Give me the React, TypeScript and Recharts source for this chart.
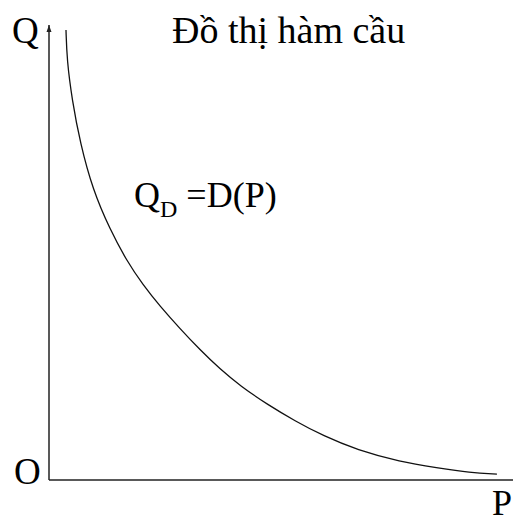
import React from 'react';
import { LineChart, Line, XAxis, YAxis, ReferenceLine } from 'recharts';

// demand curve Q = D(P), read as (price, quantity) pairs
const prices = [3.6, 3.8, 4.9, 6.6, 9.3, 12.9, 16.5, 19.9, 23.5, 27.8, 32.0, 36.2, 40.5, 46.4, 52.1, 58.1, 65.3, 74.4, 82.2, 89.2, 94.9];
const quantities = [98.9, 92.3, 83.5, 74.1, 63.7, 55.1, 48.1, 42.9, 38.2, 33.2, 28.6, 24.4, 20.7, 16.5, 13.0, 9.7, 6.6, 4.0, 2.7, 1.6, 1.3];

const title = 'Đồ thị hàm cầu';
const axisNames = { q: 'Q', p: 'P', origin: 'O' };

const data = prices.map((p, i) => ({ p, q: quantities[i] }));

const serif = { fontFamily: "'Liberation Serif', 'DejaVu Serif', serif" };

const App = () => {
    return (
        <div style={{ position: 'relative', width: 513, height: 514 }}>
            <LineChart
                width={513}
                height={514}
                data={data}
                margin={{ top: 17, right: 0, left: 41, bottom: 42 }}
            >
                <XAxis type="number" dataKey="p" domain={[0, 100]} hide />
                <YAxis type="number" dataKey="q" domain={[0, 100]} hide />
                <ReferenceLine x={0} stroke="#222" strokeWidth={1.5} />
                <ReferenceLine y={0} stroke="#222" strokeWidth={1.5} />
                <Line
                    type="basis"
                    dataKey="q"
                    stroke="#111"
                    strokeWidth={1.3}
                    dot={false}
                    isAnimationActive={false}
                />
            </LineChart>
            <svg
                width={513}
                height={514}
                style={{ position: 'absolute', left: 0, top: 0, pointerEvents: 'none' }}
            >
                <text x={4} y={35} fontSize={37} style={serif}>{axisNames.q}</text>
                <text x={6} y={476} fontSize={37} style={serif}>{axisNames.origin}</text>
                <text x={484} y={507} fontSize={36} style={serif}>{axisNames.p}</text>
                <text x={164} y={35} fontSize={38} style={serif}>{title}</text>
                <text x={126} y={199} fontSize={36} style={serif}>
                    Q<tspan fontSize={24} dy={10}>D</tspan>
                    <tspan fontSize={36} dy={-10}> =D(P)</tspan>
                </text>
                <path d="M 41 17 L 38.5 24 L 43.5 24 Z" fill="#222" />
            </svg>
        </div>
    );
};

export default App;
